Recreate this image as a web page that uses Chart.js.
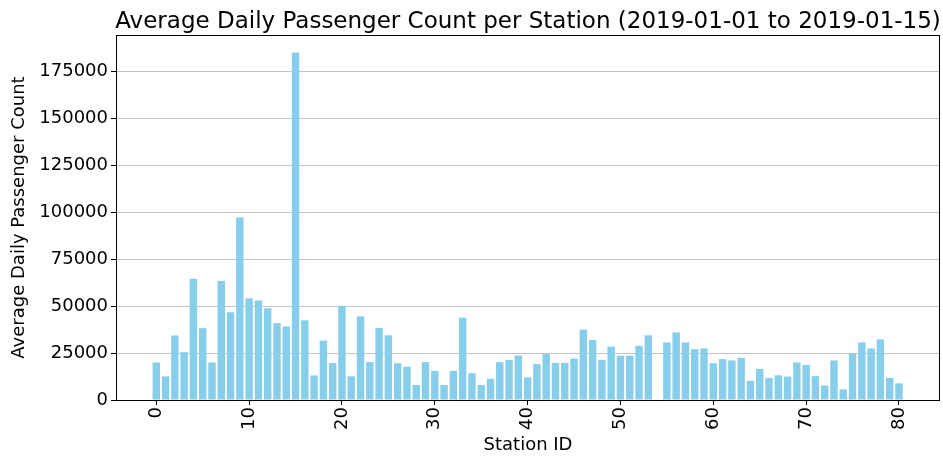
<!DOCTYPE html>
<html>
<head>
<meta charset="utf-8">
<script src="https://cdn.jsdelivr.net/npm/chart.js@4/dist/chart.umd.min.js"></script>
<style>
  html, body { margin: 0; padding: 0; background: #fff; }
  #wrap { width: 943px; height: 456px; }
</style>
</head>
<body>
<div id="wrap"><canvas id="c"></canvas></div>
<script>
const stations = [0,1,2,3,4,5,6,7,8,9,10,11,12,13,14,15,16,17,18,19,20,21,22,23,24,25,26,27,28,29,30,
  31,32,33,34,35,36,37,38,39,40,41,42,43,44,45,46,47,48,49,50,51,52,53,54,55,56,57,58,59,60,
  61,62,63,64,65,66,67,68,69,70,71,72,73,74,75,76,77,78,79,80]

// station 54 has no bar in the source picture
const passengers = [
  20000, 12600, 34400, 25500, 64700, 38300, 20000, 63500, 46800, 97300,
  54200, 53000, 48900, 41000, 39200, 185300, 42500, 13100, 31700, 19700,
  50200, 12600, 44600, 20200, 38400, 34500, 19600, 17700, 8000, 20200,
  15500, 8000, 15500, 43900, 14300, 8000, 11300, 20200, 21400, 23700,
  12100, 19100, 24500, 19800, 19800, 22100, 37500, 32000, 21400, 28400,
  23600, 23600, 28900, 34500, null, 30700, 36100, 30700, 27100, 27500,
  19600, 21800, 21100, 22500, 10200, 16600, 11800, 13200, 12500, 20000,
  18700, 12700, 7700, 21100, 5700, 24600, 30700, 27500, 32300, 11800,
  8900
]

const yTicks = [0, 25000, 50000, 75000, 100000, 125000, 150000, 175000]
const xTicks = [0, 10, 20, 30, 40, 50, 60, 70, 80]
const TITLE = 'Average Daily Passenger Count per Station (2019-01-01 to 2019-01-15)'

const FONT = 'DejaVu Sans'

// axes box and a title centred over the plot area, like matplotlib
const frame = {
  id: 'frame',
  afterDatasetsDraw(chart) {
    const a = chart.chartArea, ctx = chart.ctx
    ctx.save()
    ctx.strokeStyle = '#000'
    ctx.lineWidth = 1
    ctx.strokeRect(Math.round(a.left) + 0.5, Math.round(a.top) + 0.5, Math.round(a.right - a.left) - 1, Math.round(a.bottom - a.top))
    ctx.fillStyle = '#000'
    ctx.font = '23px "' + FONT + '"'
    ctx.textAlign = 'center'
    ctx.textBaseline = 'alphabetic'
    ctx.fillText(TITLE, (a.left + a.right) / 2, a.top - 7)
    ctx.restore()
  }
}

new Chart(document.getElementById('c'), {
  type: 'bar',
  data: {
    datasets: [{
      label: 'Average Daily Passenger Count',
      data: stations.map((s, i) => ({ x: s, y: passengers[i] })),
      backgroundColor: '#87ceeb',
      borderWidth: 0,
      barPercentage: 0.8,
      categoryPercentage: 1
    }]
  },
  options: {
    responsive: true, maintainAspectRatio: false, animation: false,
    layout: { padding: { left: 0, right: 3, top: 35, bottom: 0 } },
    plugins: {
      legend: { display: false },
      tooltip: { enabled: false },
      title: { display: false }
    },
    scales: {
      x: {
        type: 'linear',
        offset: false,
        min: -4.34, max: 84.42,
        afterFit: s => { s.height = 56 },
        afterBuildTicks: s => { s.ticks = xTicks.map(v => ({ value: v })) },
        grid: { offset: false, drawOnChartArea: false, tickColor: '#000', tickLength: 5 },
        border: { display: false },
        ticks: {
          color: '#000', font: { family: FONT, size: 18 },
          minRotation: 90, maxRotation: 90, padding: 2,
          callback: v => String(v)
        },
        title: {
          display: true, text: 'Station ID', color: '#000',
          font: { family: FONT, size: 18 }, padding: { top: 0, bottom: 0 }
        }
      },
      y: {
        min: 0, max: 194600,
        afterFit: s => { s.width = 116 },
        afterBuildTicks: s => { s.ticks = yTicks.map(v => ({ value: v })) },
        grid: { color: '#c4c4c4', tickColor: '#000', tickLength: 5 },
        border: { display: false },
        ticks: { color: '#000', font: { family: FONT, size: 18 }, padding: 3, callback: v => String(v) },
        title: {
          display: true, text: 'Average Daily Passenger Count', color: '#000',
          font: { family: FONT, size: 18 }, padding: { top: 9, bottom: 0 }
        }
      }
    }
  },
  plugins: [frame]
})
</script>
</body>
</html>
